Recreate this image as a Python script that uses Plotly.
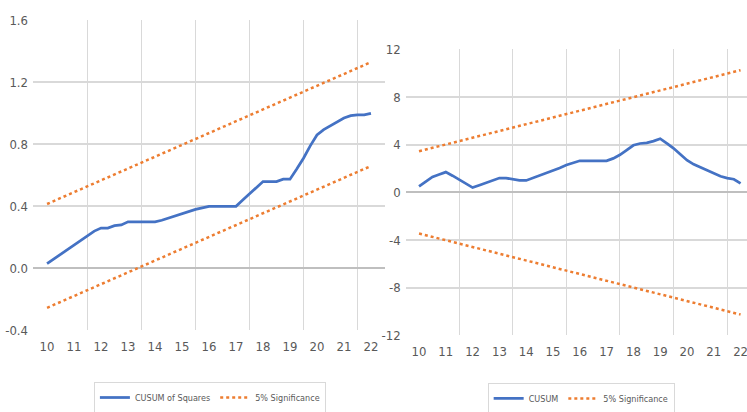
import plotly.graph_objects as go

# Observation positions (years, quarterly steps)
obs = [10.0, 10.25, 10.5, 10.75, 11.0, 11.25, 11.5, 11.75, 12.0, 12.25, 12.5, 12.75,
       13.0, 13.25, 13.5, 13.75, 14.0, 14.25, 14.5, 14.75, 15.0, 15.25, 15.5, 15.75,
       16.0, 16.25, 16.5, 16.75, 17.0, 17.25, 17.5, 17.75, 18.0, 18.25, 18.5, 18.75,
       19.0, 19.25, 19.5, 19.75, 20.0, 20.25, 20.5, 20.75, 21.0, 21.25, 21.5, 21.75, 22.0]

cusum_sq = [0.03, 0.06, 0.09, 0.12, 0.15, 0.18, 0.21, 0.24, 0.26, 0.26, 0.275, 0.28,
            0.30, 0.30, 0.30, 0.30, 0.30, 0.31, 0.325, 0.34, 0.355, 0.365, 0.38, 0.39,
            0.40, 0.40, 0.40, 0.40, 0.40, 0.44, 0.48, 0.52, 0.56, 0.56, 0.56, 0.575,
            0.575, 0.64, 0.71, 0.79, 0.86, 0.895, 0.92, 0.945, 0.97, 0.985, 0.99, 0.99, 1.00]

cusum = [0.5, 0.9, 1.3, 1.5, 1.7, 1.4, 1.05, 0.7, 0.4, 0.6, 0.8, 1.0,
         1.2, 1.2, 1.1, 1.0, 1.0, 1.2, 1.45, 1.65, 1.85, 2.05, 2.3, 2.5,
         2.65, 2.65, 2.65, 2.65, 2.65, 2.85, 3.15, 3.55, 3.95, 4.1, 4.15, 4.3,
         4.5, 4.1, 3.7, 3.2, 2.7, 2.35, 2.1, 1.85, 1.6, 1.35, 1.2, 1.1, 0.75]

# 5% significance bounds (straight lines between the end observations)
bound_x = [10.0, 22.0]
sq_upper = [0.415, 1.33]
sq_lower = [-0.255, 0.66]
cs_upper = [3.45, 10.25]
cs_lower = [-3.45, -10.25]

year_ticks = [10, 11, 12, 13, 14, 15, 16, 17, 18, 19, 20, 21, 22]
year_labels = [str(v) for v in year_ticks]
grid_x = [11.5, 13.5, 15.5, 17.5, 19.5, 21.5]

sq_ticks = [-0.4, 0.0, 0.4, 0.8, 1.2, 1.6]
sq_labels = ["-0.4", "0.0", "0.4", "0.8", "1.2", "1.6"]
sq_grid = [0.4, 0.8, 1.2]

cs_ticks = [-12, -8, -4, 0, 4, 8, 12]
cs_labels = ["-12", "-8", "-4", "0", "4", "8", "12"]
cs_grid = [-8, -4, 4, 8]

BLUE = "#4472C4"
ORANGE = "#ED7D31"
GRID = "#D9D9D9"
ZERO = "#BFBFBF"
TEXT = "#595959"
FONT = "DejaVu Sans Condensed, Liberation Sans Narrow, Liberation Sans, sans-serif"

fig = go.Figure()

fig.add_trace(go.Scatter(x=obs, y=cusum_sq, mode="lines", name="CUSUM of Squares",
                         line=dict(color=BLUE, width=2.75), xaxis="x", yaxis="y",
                         legend="legend"))
fig.add_trace(go.Scatter(x=bound_x, y=sq_upper, mode="lines", name="5% Significance",
                         line=dict(color=ORANGE, width=2.5, dash="dot"), xaxis="x", yaxis="y",
                         legend="legend"))
fig.add_trace(go.Scatter(x=bound_x, y=sq_lower, mode="lines", name="5% Significance",
                         line=dict(color=ORANGE, width=2.5, dash="dot"), xaxis="x", yaxis="y",
                         legend="legend", showlegend=False))

fig.add_trace(go.Scatter(x=obs, y=cusum, mode="lines", name="CUSUM",
                         line=dict(color=BLUE, width=2.75), xaxis="x2", yaxis="y2",
                         legend="legend2"))
fig.add_trace(go.Scatter(x=bound_x, y=cs_upper, mode="lines", name="5% Significance",
                         line=dict(color=ORANGE, width=2.5, dash="dot"), xaxis="x2", yaxis="y2",
                         legend="legend2"))
fig.add_trace(go.Scatter(x=bound_x, y=cs_lower, mode="lines", name="5% Significance",
                         line=dict(color=ORANGE, width=2.5, dash="dot"), xaxis="x2", yaxis="y2",
                         legend="legend2", showlegend=False))

tick_font = dict(family=FONT, size=13, color=TEXT)

xcommon = dict(tickmode="array", tickvals=year_ticks, ticktext=year_labels,
               showgrid=False, zeroline=False, showline=False, ticks="",
               tickfont=tick_font, ticklabeloverflow="allow",
               minor=dict(tickmode="array", tickvals=grid_x, showgrid=True,
                          gridcolor=GRID, gridwidth=1, ticks=""),
               ticklabelstandoff=7, fixedrange=True)

ycommon = dict(showgrid=False, showline=False, ticks="",
               zeroline=True, zerolinecolor=ZERO, zerolinewidth=2,
               tickfont=tick_font, ticklabelstandoff=4, fixedrange=True)

legend_common = dict(orientation="h", xanchor="center", yanchor="top",
                     bordercolor=GRID, borderwidth=1, bgcolor="white",
                     font=dict(family=FONT, size=9, color=TEXT), itemwidth=30)

fig.update_layout(
    width=747, height=412,
    margin=dict(l=0, r=0, t=0, b=0, autoexpand=False),
    paper_bgcolor="white", plot_bgcolor="white",
    xaxis=dict(domain=[0.0442, 0.5154], range=[9.48, 22.52], anchor="y", **xcommon),
    xaxis2=dict(domain=[0.543, 1.0], range=[9.5, 22.24], anchor="y2", **xcommon),
    yaxis=dict(domain=[0.1983, 0.9507], range=[-0.4, 1.6], anchor="x",
               tickmode="array", tickvals=sq_ticks, ticktext=sq_labels,
               minor=dict(tickmode="array", tickvals=sq_grid, showgrid=True,
                          gridcolor=GRID, gridwidth=1.5, ticks=""),
               **ycommon),
    yaxis2=dict(domain=[0.1859, 0.8803], range=[-12, 12], anchor="x2",
                tickmode="array", tickvals=cs_ticks, ticktext=cs_labels,
                minor=dict(tickmode="array", tickvals=cs_grid, showgrid=True,
                           gridcolor=GRID, gridwidth=1.5, ticks=""),
                **ycommon),
    legend=dict(x=0.281, y=0.0728, **legend_common),
    legend2=dict(x=0.778, y=0.0704, **legend_common),
)

fig.write_html("out.html")
